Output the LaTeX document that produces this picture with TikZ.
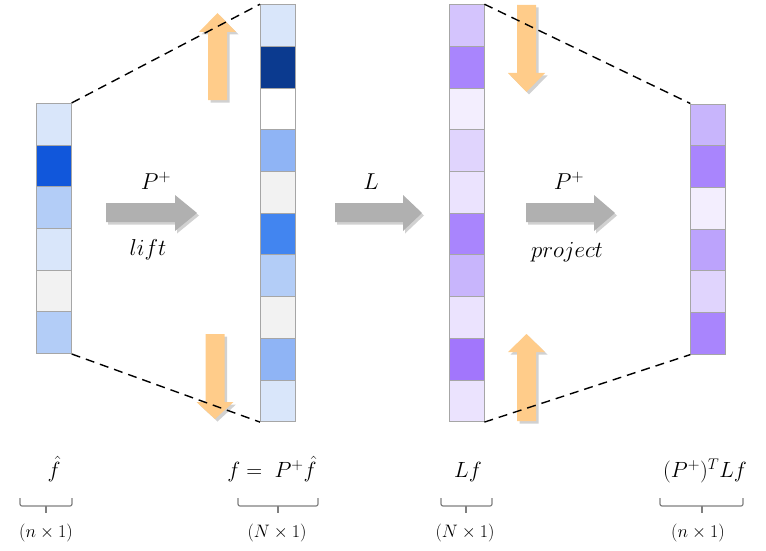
\RequirePackage{fix-cm}
\documentclass[tikz,border=0pt]{standalone}
\usetikzlibrary{shadows}

\definecolor{blueI}{HTML}{D9E6FA}
\definecolor{blueII}{HTML}{B3CDF7}
\definecolor{blueIII}{HTML}{8FB4F5}
\definecolor{blueIV}{HTML}{4285F0}
\definecolor{blueV}{HTML}{1157DB}
\definecolor{blueVI}{HTML}{0B3A8F}
\definecolor{grayc}{HTML}{F2F2F2}
\definecolor{purpI}{HTML}{F3EEFE}
\definecolor{purpII}{HTML}{EBE3FE}
\definecolor{purpIII}{HTML}{E0D4FD}
\definecolor{purpIV}{HTML}{D4C4FD}
\definecolor{purpV}{HTML}{C8B5FC}
\definecolor{purpVI}{HTML}{BCA3FC}
\definecolor{purpVII}{HTML}{A985FD}
\definecolor{purpVIII}{HTML}{A276FC}
\definecolor{cellborder}{HTML}{A6A6A6}
\definecolor{arrowgray}{HTML}{B0B0B0}
\definecolor{liftorange}{HTML}{FFCC8A}
\definecolor{bracegray}{HTML}{7F7F7F}

\tikzset{
  cell/.style={draw=cellborder, line width=0.9pt, minimum width=34.5pt,
               minimum height=41.7pt, inner sep=0pt},
  bigarrow/.style={fill=arrowgray, drop shadow={shadow xshift=2pt,
               shadow yshift=-2.5pt, opacity=0.3, fill=black!60}},
  liftarrow/.style={fill=liftorange, drop shadow={shadow xshift=2.5pt,
               shadow yshift=-2.5pt, opacity=0.3, fill=black!60}},
  zoomline/.style={line width=1.4pt, dash pattern=on 9pt off 6pt},
  sizebrace/.style={draw=bracegray, line width=1.2pt, rounded corners=2pt},
  opname/.style={font=\fontsize{23}{27}\selectfont},
  vecname/.style={font=\fontsize{22}{26}\selectfont, anchor=base},
  sizename/.style={font=\fontsize{18}{22}\selectfont, anchor=base}
}

\begin{document}
\begin{tikzpicture}[x=1pt, y=-1pt]
    \useasboundingbox (0,0) rectangle (766,551);

    % Small vector
    \foreach \c [count=\i from 0] in {blueI, blueV, blueII, blueI, grayc, blueII} {
      \node[cell, fill=\c] (h\i) at (54, {124.2+41.7*\i}) {};
    }

    % Lifted vector
    \foreach \c [count=\i from 0] in {blueI, blueVI, white, blueIII, grayc,
                                      blueIV, blueII, grayc, blueIII, blueI} {
      \node[cell, fill=\c] (f\i) at (277.7, {25.5+41.7*\i}) {};
    }

    % Operator applied
    \foreach \c [count=\i from 0] in {purpIV, purpVII, purpI, purpIII, purpII,
                                      purpVII, purpV, purpII, purpVIII, purpII} {
      \node[cell, fill=\c] (lf\i) at (466.7, {25.5+41.7*\i}) {};
    }

    % Projected vector
    \foreach \c [count=\i from 0] in {purpV, purpVII, purpI, purpVI, purpIII, purpVII} {
      \node[cell, fill=\c] (p\i) at (708, {124.8+41.7*\i}) {};
    }

    % Gray arrows
    \foreach \a/\b/\c in {106/175/197, 335/403/422, 526/594/615} {
      \fill[bigarrow] (\a,203) -- (\b,203) -- (\b,195) -- (\c,213)
                      -- (\b,231) -- (\b,222) -- (\a,222) -- cycle;
    }

    % Orange arrows
    \foreach \x/\a/\b/\c in {217.5/100/32/13, 215/334/402/419,
                             526.5/5/73/92, 526.5/421/352/334} {
      \fill[liftarrow] ({\x-9.5},\a) -- ({\x-9.5},\b) -- ({\x-18.5},\b) -- (\x,\c)
                       -- ({\x+18.5},\b) -- ({\x+9.5},\b) -- ({\x+9.5},\a) -- cycle;
    }

    % Dashed outlines
    \draw[zoomline] (h0.north east) -- (f0.north west);
    \draw[zoomline] (h5.south east) -- (f9.south west);
    \draw[zoomline] (lf0.north east) -- (p0.north west);
    \draw[zoomline] (lf9.south east) -- (p5.south west);

    % Operator labels
    \node[opname] (liftop) at (156,181) {$P^{+}$};
    \node[opname] (lifttxt) at (148,250) {$lift$};
    \node[opname] (lop) at (371,182) {$L$};
    \node[opname] (projop) at (569,181) {$P^{+}$};
    \node[opname] (projtxt) at (567,252) {$project$};

    % Vector labels
    \node[vecname] (hname) at (54,477) {$\hat{f}$};
    \node[vecname] (fname) at (272,477) {$f =\; P^{+}\hat{f}$};
    \node[vecname] (lfname) at (468,477) {$Lf$};
    \node[vecname] (pname) at (705,477) {$(P^{+})^{T}Lf$};

    % Size braces
    \foreach \a/\m/\b in {20/46/72, 238/278/318, 441/466/492, 660/702/743} {
      \draw[sizebrace] (\a,498) |- (\b,506) -- (\b,498);
      \draw[sizebrace] (\m,506) -- (\m,513);
    }
    \node[sizename] (hsize) at (46,537) {$(n \times 1)$};
    \node[sizename] (fsize) at (277,537) {$(N \times 1)$};
    \node[sizename] (lfsize) at (465,537) {$(N \times 1)$};
    \node[sizename] (psize) at (698,537) {$(n \times 1)$};
\end{tikzpicture}
\end{document}
